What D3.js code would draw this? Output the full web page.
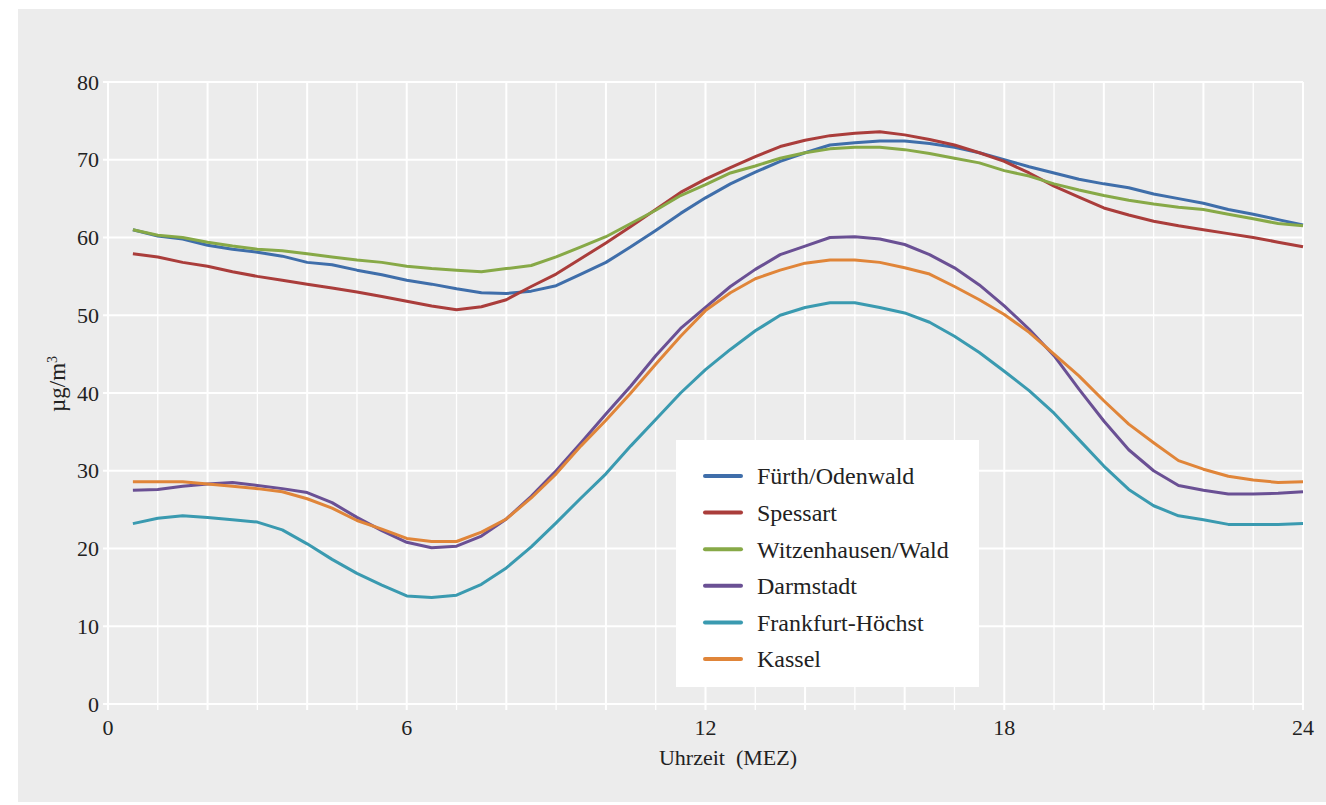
<!DOCTYPE html>
<html>
<head>
<meta charset="utf-8">
<script src="https://cdn.jsdelivr.net/npm/d3@7"></script>
<style>
  body { margin: 0; background: #fff; }
  svg text { font-family: "Liberation Serif", "DejaVu Serif", serif; fill: #222; }
</style>
</head>
<body>
<div id="chart"></div>
<script type="text/javascript">
// Uhrzeit (half-hourly values)
var hours = [0.5, 1, 1.5, 2, 2.5, 3, 3.5, 4, 4.5, 5, 5.5, 6,
             6.5, 7, 7.5, 8, 8.5, 9, 9.5, 10, 10.5, 11, 11.5, 12,
             12.5, 13, 13.5, 14, 14.5, 15, 15.5, 16, 16.5, 17, 17.5, 18,
             18.5, 19, 19.5, 20, 20.5, 21, 21.5, 22, 22.5, 23, 23.5, 24];

var fuerth = [61.0, 60.2, 59.8, 59.0, 58.5, 58.1, 57.6, 56.8, 56.5, 55.8, 55.2, 54.5,
              54.0, 53.4, 52.9, 52.8, 53.1, 53.8, 55.3, 56.8, 58.8, 60.9, 63.1, 65.1,
              66.9, 68.4, 69.8, 70.9, 71.9, 72.2, 72.4, 72.4, 72.1, 71.6, 70.9, 70.0,
              69.1, 68.3, 67.5, 66.9, 66.4, 65.6, 65.0, 64.4, 63.6, 63.0, 62.3, 61.6];
var spessart = [57.9, 57.5, 56.8, 56.3, 55.6, 55.0, 54.5, 54.0, 53.5, 53.0, 52.4, 51.8,
                51.2, 50.7, 51.1, 52.0, 53.7, 55.3, 57.3, 59.3, 61.4, 63.6, 65.8, 67.5,
                69.0, 70.4, 71.7, 72.5, 73.1, 73.4, 73.6, 73.2, 72.6, 71.9, 70.9, 69.8,
                68.3, 66.6, 65.2, 63.8, 62.9, 62.1, 61.5, 61.0, 60.5, 60.0, 59.4, 58.8];
var witzenhausen = [61.0, 60.3, 60.0, 59.4, 58.9, 58.5, 58.3, 57.9, 57.5, 57.1, 56.8, 56.3,
                    56.0, 55.8, 55.6, 56.0, 56.4, 57.5, 58.8, 60.1, 61.8, 63.5, 65.4, 66.8,
                    68.3, 69.2, 70.2, 70.9, 71.4, 71.6, 71.6, 71.3, 70.8, 70.2, 69.6, 68.6,
                    67.9, 66.9, 66.1, 65.4, 64.8, 64.3, 63.9, 63.6, 63.0, 62.4, 61.8, 61.5];
var darmstadt = [27.5, 27.6, 28.0, 28.3, 28.5, 28.1, 27.7, 27.2, 25.9, 24.0, 22.3, 20.8,
                 20.1, 20.3, 21.6, 23.8, 26.7, 30.0, 33.6, 37.3, 40.9, 44.8, 48.3, 51.0,
                 53.7, 55.9, 57.8, 58.9, 60.0, 60.1, 59.8, 59.1, 57.8, 56.1, 53.9, 51.2,
                 48.2, 44.8, 40.5, 36.4, 32.7, 30.0, 28.1, 27.5, 27.0, 27.0, 27.1, 27.3];
var hoechst = [23.2, 23.9, 24.2, 24.0, 23.7, 23.4, 22.4, 20.6, 18.6, 16.8, 15.3, 13.9,
               13.7, 14.0, 15.4, 17.5, 20.2, 23.3, 26.5, 29.6, 33.2, 36.6, 40.0, 43.0,
               45.6, 48.0, 50.0, 51.0, 51.6, 51.6, 51.0, 50.3, 49.1, 47.3, 45.2, 42.8,
               40.3, 37.4, 34.0, 30.6, 27.6, 25.5, 24.2, 23.7, 23.1, 23.1, 23.1, 23.2];
var kassel = [28.6, 28.6, 28.6, 28.3, 28.0, 27.7, 27.3, 26.4, 25.2, 23.6, 22.5, 21.3,
              20.9, 20.9, 22.1, 23.8, 26.5, 29.6, 33.2, 36.5, 40.0, 43.7, 47.3, 50.6,
              52.9, 54.7, 55.8, 56.7, 57.1, 57.1, 56.8, 56.1, 55.3, 53.7, 52.0, 50.1,
              47.8, 45.0, 42.2, 39.0, 36.0, 33.6, 31.3, 30.2, 29.3, 28.8, 28.5, 28.6];

var names = ["Fürth/Odenwald", "Spessart", "Witzenhausen/Wald", "Darmstadt", "Frankfurt-Höchst", "Kassel"];
var colors = ["#3f6eaa", "#aa3d3b", "#87a947", "#6a5094", "#3a9ab0", "#e08539"];
var xTicks = [0, 6, 12, 18, 24];
var yTicks = [0, 10, 20, 30, 40, 50, 60, 70, 80];

var series = [fuerth, spessart, witzenhausen, darmstadt, hoechst, kassel];

// note: "top" is taken by window.top, so plot edges get a prefix
var W = 1326, H = 805,
    pLeft = 108, pRight = 1303, pTop = 82, pBottom = 704;

var svg = d3.select("#chart").append("svg")
    .attr("width", W)
    .attr("height", H)
    .attr("font-family", "'Liberation Serif', 'DejaVu Serif', serif");

svg.append("rect")
    .attr("x", 18).attr("y", 9)
    .attr("width", W - 18).attr("height", 793)
    .attr("fill", "#ececec");

var x = d3.scaleLinear().domain([0, 24]).range([pLeft, pRight]);
var y = d3.scaleLinear().domain([0, 80]).range([pBottom, pTop]);

// grid: every hour, even hours a bit heavier
svg.append("g").selectAll("line")
    .data(d3.range(0, 25))
  .enter().append("line")
    .attr("x1", function(d) { return x(d); })
    .attr("x2", function(d) { return x(d); })
    .attr("y1", pTop)
    .attr("y2", pBottom + 6)
    .attr("stroke", "#fff")
    .attr("stroke-width", function(d) { return d % 2 ? 1.3 : 2; });

svg.append("g").selectAll("line")
    .data(yTicks)
  .enter().append("line")
    .attr("x1", pLeft - 5)
    .attr("x2", pRight)
    .attr("y1", function(d) { return y(d); })
    .attr("y2", function(d) { return y(d); })
    .attr("stroke", "#fff")
    .attr("stroke-width", 2);

// axis labels
svg.append("g").selectAll("text")
    .data(yTicks)
  .enter().append("text")
    .attr("x", pLeft - 9)
    .attr("y", function(d) { return y(d); })
    .attr("dy", "0.35em")
    .attr("text-anchor", "end")
    .style("font-size", "22px")
    .text(function(d) { return d; });

svg.append("g").selectAll("text")
    .data(xTicks)
  .enter().append("text")
    .attr("x", function(d) { return x(d); })
    .attr("y", 735)
    .attr("text-anchor", "middle")
    .style("font-size", "22px")
    .text(function(d) { return d; });

svg.append("text")
    .attr("x", 728)
    .attr("y", 765)
    .attr("text-anchor", "middle")
    .attr("xml:space", "preserve")
    .style("font-size", "22px")
    .text("Uhrzeit  (MEZ)");

var yt = svg.append("text")
    .attr("transform", "translate(65,384) rotate(-90)")
    .attr("text-anchor", "middle")
    .style("font-size", "23px");
yt.append("tspan").text("µg/m");
yt.append("tspan").attr("dy", -8).style("font-size", "14px").text("3");

// lines
var line = d3.line()
    .x(function(d, i) { return x(hours[i]); })
    .y(function(d) { return y(d); });

svg.append("g").selectAll("path")
    .data(series)
  .enter().append("path")
    .attr("d", line)
    .attr("fill", "none")
    .attr("stroke", function(d, i) { return colors[i]; })
    .attr("stroke-width", 3)
    .attr("stroke-linejoin", "round");

// legend
var lg = svg.append("g");
lg.append("rect")
    .attr("x", 676).attr("y", 440)
    .attr("width", 303).attr("height", 247)
    .attr("fill", "#fff");

var item = lg.selectAll("g")
    .data(names)
  .enter().append("g")
    .attr("transform", function(d, i) { return "translate(0," + (476 + i * 36.6) + ")"; });

item.append("line")
    .attr("x1", 705).attr("x2", 741)
    .attr("stroke", function(d, i) { return colors[i]; })
    .attr("stroke-width", 4)
    .attr("stroke-linecap", "round");

item.append("text")
    .attr("x", 757)
    .attr("dy", "0.35em")
    .style("font-size", "24px")
    .text(function(d) { return d; });
</script>
</body>
</html>
